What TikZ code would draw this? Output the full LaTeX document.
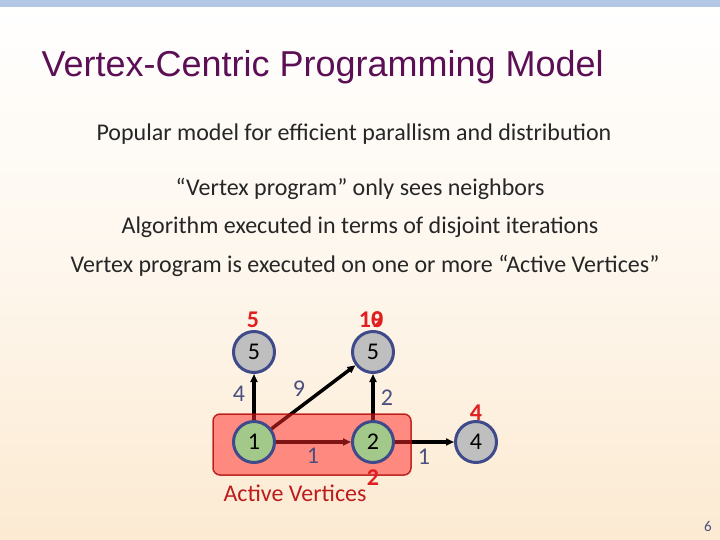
\documentclass[tikz,border=0pt]{standalone}
\usepackage{fontspec}
\setmainfont{Carlito}
\newfontfamily\titlefont{Liberation Sans}
\usetikzlibrary{arrows.meta}
\pgfdeclarelayer{bg}
\pgfdeclarelayer{edges}
\pgfdeclarelayer{rect}
\pgfsetlayers{bg,edges,rect,main}
\definecolor{ttl}{HTML}{5C0F55}
\definecolor{nodeblue}{HTML}{3F4A8A}
\definecolor{lblue}{HTML}{4A4F80}
\definecolor{grayfill}{HTML}{BFBFBF}
\definecolor{greenfill}{HTML}{A3C98A}
\definecolor{redtxt}{HTML}{E02020}
\definecolor{bar}{HTML}{B4C7E4}
\definecolor{peach}{HTML}{FCEAD2}
\tikzset{
 vert/.style={circle,draw=nodeblue,line width=3pt,minimum size=41pt,inner sep=0pt,font=\fontsize{24}{26}\selectfont},
 edge/.style={-{Triangle[length=8pt,width=7pt]},line width=3.5pt,black},
 elab/.style={text=lblue,font=\fontsize{24}{26}\selectfont},
 rlab/.style={text=redtxt,font=\bfseries\fontsize{24}{26}\selectfont},
 body/.style={font=\fontsize{24}{27}\selectfont,text=black!85}
}
\begin{document}
\begin{tikzpicture}[x=1pt,y=-1pt]
\begin{pgfonlayer}{bg}
\shade[top color=white,bottom color=peach,middle color=white!60!peach] (0,0) rectangle (720,540);
\fill[bar] (0,0) rectangle (720,7);
\end{pgfonlayer}
\useasboundingbox (0,0) rectangle (720,540);
\node[anchor=west,text=ttl,font=\titlefont\fontsize{36}{40}\selectfont] (title) at (38,67) {Vertex-Centric Programming Model};
\node[body] (t1) at (354,134) {Popular model for efficient parallism and distribution};
\node[body] (t2) at (360,189) {“Vertex program” only sees neighbors};
\node[body] (t3) at (360,227) {Algorithm executed in terms of disjoint iterations};
\node[body] (t4) at (365,266) {Vertex program is executed on one or more “Active Vertices”};
\node[vert,fill=grayfill] (a) at (254,352) {5};
\node[vert,fill=grayfill] (b) at (373,352) {5};
\node[vert,fill=greenfill] (c) at (254,442) {1};
\node[vert,fill=greenfill] (d) at (373,442) {2};
\node[vert,fill=grayfill] (e) at (476,442) {4};
\begin{pgfonlayer}{edges}
\draw[edge] (c) -- (a);
\draw[edge] (c) -- (b);
\draw[edge] (c) -- (d);
\draw[edge] (d) -- (b);
\draw[edge] (d) -- (e);
\end{pgfonlayer}
\node[elab] (l1) at (239,394) {4};
\node[elab] (l2) at (299,389) {9};
\node[elab] (l3) at (387,398) {2};
\node[elab] (l4) at (313,456) {1};
\node[elab] (l5) at (424,457) {1};
\begin{pgfonlayer}{rect}
\fill[red!80!pink,opacity=0.5,rounded corners=7pt] (213,414) rectangle (411,475);
\draw[red!70!black,line width=1.5pt,rounded corners=7pt,opacity=0.8] (213,414) rectangle (411,475);
\end{pgfonlayer}
\node[rlab] (r1) at (253,320) {5};
\node[rlab] (r2) at (371,320) {10};
\node[rlab] (r2b) at (377,320) {9};
\node[rlab] (r3) at (476,413) {4};
\node[rlab] (r4) at (373,478) {2};
\node[text=redtxt!85!black,font=\fontsize{24}{26}\selectfont] (act) at (295,493) {Active Vertices};
\node[text=lblue,font=\fontsize{15}{17}\selectfont] (pg) at (708,526) {6};
\end{tikzpicture}
\end{document}
